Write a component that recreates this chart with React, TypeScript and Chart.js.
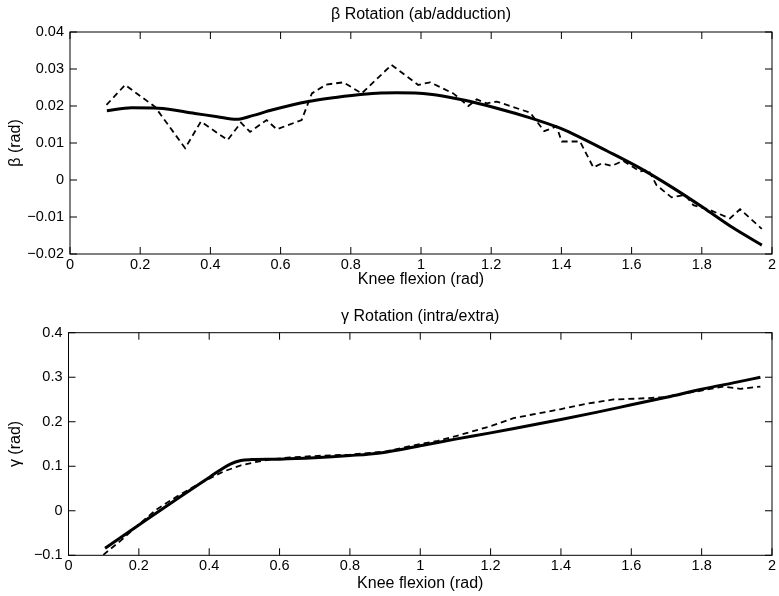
import React, { useEffect, useRef } from "react";
import { Chart, registerables } from "chart.js";
Chart.register(...registerables);

// ---------- data ----------
const xTicks = [0, 0.2, 0.4, 0.6, 0.8, 1, 1.2, 1.4, 1.6, 1.8, 2];
const betaTicks = [-0.02, -0.01, 0, 0.01, 0.02, 0.03, 0.04];
const gammaTicks = [-0.1, 0, 0.1, 0.2, 0.3, 0.4];

const betaMeasuredX = [0.104, 0.157, 0.242, 0.328, 0.373, 0.449, 0.487, 0.513, 0.56, 0.589, 0.66, 0.689, 0.73, 0.779, 0.831, 0.916, 0.992, 1.026, 1.092, 1.135, 1.159, 1.187, 1.216, 1.311, 1.351, 1.386, 1.401, 1.453, 1.491, 1.515, 1.543, 1.576, 1.624, 1.648, 1.671, 1.714, 1.752, 1.776, 1.823, 1.88, 1.909, 1.971];
const betaMeasuredY = [0.0203, 0.0257, 0.0198, 0.0086, 0.0158, 0.0108, 0.0155, 0.013, 0.0162, 0.0137, 0.0162, 0.0234, 0.0258, 0.0264, 0.0234, 0.0311, 0.0257, 0.0264, 0.0234, 0.02, 0.0218, 0.0207, 0.0212, 0.0182, 0.0132, 0.0145, 0.0104, 0.0104, 0.0034, 0.0045, 0.0038, 0.0052, 0.0023, 0.0027, -0.0014, -0.0047, -0.004, -0.0068, -0.0081, -0.0104, -0.0079, -0.0132];

const betaModelX = [0.105, 0.176, 0.252, 0.356, 0.42, 0.475, 0.52, 0.575, 0.679, 0.755, 0.836, 0.931, 1.026, 1.121, 1.216, 1.311, 1.391, 1.434, 1.529, 1.624, 1.719, 1.814, 1.89, 1.971];
const betaModelY = [0.0187, 0.0195, 0.0194, 0.018, 0.0171, 0.0164, 0.0174, 0.0189, 0.0212, 0.0223, 0.0232, 0.0236, 0.0232, 0.0216, 0.0194, 0.0168, 0.0142, 0.0124, 0.0079, 0.0032, -0.0022, -0.0081, -0.013, -0.0176];

const gammaMeasuredX = [0.099, 0.15, 0.204, 0.25, 0.308, 0.365, 0.44, 0.49, 0.535, 0.58, 0.63, 0.725, 0.8, 0.9, 1.0, 1.05, 1.123, 1.2, 1.265, 1.33, 1.398, 1.47, 1.549, 1.62, 1.691, 1.74, 1.786, 1.862, 1.91, 1.967];
const gammaMeasuredY = [-0.099, -0.066, -0.028, 0.003, 0.032, 0.058, 0.088, 0.102, 0.11, 0.116, 0.12, 0.124, 0.126, 0.133, 0.15, 0.157, 0.1725, 0.19, 0.208, 0.218, 0.228, 0.24, 0.25, 0.252, 0.255, 0.262, 0.268, 0.279, 0.274, 0.279];

const gammaModelX = [0.104, 0.2, 0.3, 0.4, 0.46, 0.49, 0.52, 0.6, 0.7, 0.8, 0.886, 1.0, 1.1, 1.2, 1.3, 1.4, 1.5, 1.6, 1.7, 1.8, 1.9, 1.967];
const gammaModelY = [-0.084, -0.032, 0.022, 0.075, 0.105, 0.113, 0.115, 0.116, 0.119, 0.124, 0.13, 0.146, 0.161, 0.175, 0.19, 0.205, 0.221, 0.238, 0.255, 0.273, 0.289, 0.3];

// ---------- helpers ----------
const FONT = "'Liberation Sans', Arial, Helvetica, sans-serif";

const fmt = (v: number) => {
  const s = String(Number(v.toFixed(4)));
  return s.replace("-", "\u2212");
};

const pts = (xs: number[], ys: number[]) => xs.map((x, i) => ({ x, y: ys[i] }));

const boxPlugin = {
  id: "matlabBox",
  afterDatasetsDraw(chart: any, _args: any, opts: any) {
    const { ctx, chartArea } = chart;
    const { left, right, top, bottom } = chartArea;
    const xs = chart.scales.x;
    const ys = chart.scales.y;
    const len = 7;
    ctx.save();
    ctx.strokeStyle = "#000";
    ctx.lineWidth = 1;
    ctx.strokeRect(left, top, right - left, bottom - top);
    ctx.beginPath();
    (opts.xTicks as number[]).forEach((v) => {
      const p = xs.getPixelForValue(v);
      ctx.moveTo(p, bottom);
      ctx.lineTo(p, bottom - len);
      ctx.moveTo(p, top);
      ctx.lineTo(p, top + len);
    });
    (opts.yTicks as number[]).forEach((v) => {
      const p = ys.getPixelForValue(v);
      ctx.moveTo(left, p);
      ctx.lineTo(left + len, p);
      ctx.moveTo(right, p);
      ctx.lineTo(right - len, p);
    });
    ctx.stroke();
    ctx.restore();
  },
};

type Panel = {
  title: string;
  yLabel: string;
  yTicks: number[];
  measured: { x: number; y: number }[];
  model: { x: number; y: number }[];
  yAxisWidth: number;
  xAxisHeight: number;
  titlePad: { top: number; bottom: number };
  xTitlePadBottom: number;
  xTickPad: number;
};

const makeConfig = (p: Panel): any => ({
  type: "line",
  data: {
    datasets: [
      {
        label: "measured",
        data: p.measured,
        borderColor: "#000",
        borderWidth: 1.8,
        borderDash: [6, 4],
        pointRadius: 0,
        tension: 0,
        fill: false,
      },
      {
        label: "model",
        data: p.model,
        borderColor: "#000",
        borderWidth: 3,
        pointRadius: 0,
        cubicInterpolationMode: "monotone",
        fill: false,
      },
    ],
  },
  options: {
    responsive: false,
    animation: false,
    events: [],
    layout: { padding: { left: 0, right: 7, top: 0, bottom: 0 } },
    plugins: {
      legend: { display: false },
      tooltip: { enabled: false },
      title: {
        display: true,
        fullSize: false,
        text: p.title,
        color: "#000",
        font: { family: FONT, size: 16, weight: "normal", lineHeight: 1.2 },
        padding: p.titlePad,
      },
      matlabBox: { xTicks, yTicks: p.yTicks },
    },
    scales: {
      x: {
        type: "linear",
        min: 0,
        max: 2,
        grid: { display: false, drawTicks: false },
        border: { display: false },
        afterBuildTicks: (s: any) => {
          s.ticks = xTicks.map((v) => ({ value: v }));
        },
        afterFit: (s: any) => {
          s.height = p.xAxisHeight;
        },
        ticks: {
          color: "#000",
          padding: p.xTickPad,
          maxRotation: 0,
          autoSkip: false,
          font: { family: FONT, size: 14.5 },
          callback: (v: any) => fmt(Number(v)),
        },
        title: {
          display: true,
          text: "Knee flexion (rad)",
          color: "#000",
          font: { family: FONT, size: 16, lineHeight: 1.2 },
          padding: { top: 0, bottom: p.xTitlePadBottom },
        },
      },
      y: {
        type: "linear",
        min: p.yTicks[0],
        max: p.yTicks[p.yTicks.length - 1],
        grid: { display: false, drawTicks: false },
        border: { display: false },
        afterBuildTicks: (s: any) => {
          s.ticks = p.yTicks.map((v) => ({ value: v }));
        },
        afterFit: (s: any) => {
          s.width = p.yAxisWidth;
        },
        ticks: {
          color: "#000",
          padding: 6,
          autoSkip: false,
          font: { family: FONT, size: 14.5 },
          callback: (v: any) => fmt(Number(v)),
        },
        title: {
          display: true,
          text: p.yLabel,
          color: "#000",
          font: { family: FONT, size: 16, lineHeight: 1.2 },
          padding: { top: 6, bottom: 0 },
        },
      },
    },
  },
  plugins: [boxPlugin],
});

const ChartPanel = ({ panel, top }: { panel: Panel; top: number }) => {
  const ref = useRef<HTMLCanvasElement | null>(null);
  useEffect(() => {
    if (!ref.current) return;
    const chart = new Chart(ref.current, makeConfig(panel));
    return () => chart.destroy();
  }, []);
  return (
    <canvas
      ref={ref}
      width={779}
      height={298}
      style={{ position: "absolute", left: 0, top, width: 779, height: 298 }}
    />
  );
};

const betaPanel: Panel = {
  title: "\u03b2 Rotation (ab/adduction)",
  yLabel: "\u03b2 (rad)",
  yTicks: betaTicks,
  measured: pts(betaMeasuredX, betaMeasuredY),
  model: pts(betaModelX, betaModelY),
  yAxisWidth: 70,
  xAxisHeight: 44,
  titlePad: { top: 5.4, bottom: 7.4 },
  xTitlePadBottom: 8.4,
  xTickPad: 2,
};

const gammaPanel: Panel = {
  title: "\u03b3 Rotation (intra/extra)",
  yLabel: "\u03b3 (rad)",
  yTicks: gammaTicks,
  measured: pts(gammaMeasuredX, gammaMeasuredY),
  model: pts(gammaModelX, gammaModelY),
  yAxisWidth: 68.5,
  xAxisHeight: 40.7,
  titlePad: { top: 9.1, bottom: 6.4 },
  xTitlePadBottom: 3.1,
  xTickPad: 2.4,
};

export default function App() {
  return (
    <div
      style={{
        position: "absolute",
        left: 0,
        top: 0,
        width: 779,
        height: 596,
        background: "#fff",
      }}
    >
      <ChartPanel panel={betaPanel} top={0} />
      <ChartPanel panel={gammaPanel} top={298} />
    </div>
  );
}
